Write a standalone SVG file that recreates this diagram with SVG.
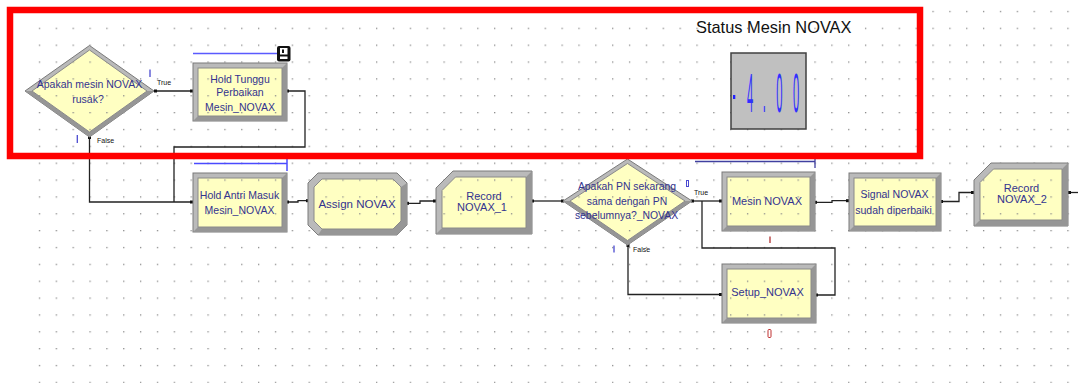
<svg xmlns="http://www.w3.org/2000/svg" width="1078" height="383" viewBox="0 0 1078 383">
<defs>
<pattern id="dots" patternUnits="userSpaceOnUse" x="5.1" y="10.84" width="16.86" height="16.86">
<rect x="0" y="0" width="1.3" height="1.3" fill="#8a8a8a"/>
</pattern>
<pattern id="ydots" patternUnits="userSpaceOnUse" x="5.1" y="10.84" width="16.86" height="16.86">
<rect x="0" y="0" width="16.86" height="16.86" fill="#ffffc2"/>
<rect x="0" y="0" width="1.3" height="1.3" fill="#8a8a8a"/>
</pattern>
<style>
.frame{fill:#bababa;stroke:#7a7a7a;stroke-width:1}
.dark{fill:#969696}
.inner{fill:url(#ydots);stroke:#8a8a8a;stroke-width:1}
.lbl{font-family:"Liberation Sans",Arial,sans-serif;fill:#33338f;text-anchor:middle}
.tf{font-family:"Liberation Sans",Arial,sans-serif;fill:#111;font-size:7px}
.con{fill:none;stroke:#222;stroke-width:1.3}
.pt{fill:#111}
</style>
</defs>
<rect x="30" y="0" width="1048" height="383" fill="url(#dots)"/>

<g id="connectors">
<polyline class="con" points="155,91 192,91"/>
<polyline class="con" points="89.5,137 89.5,202 192,202"/>
<polyline class="con" points="287,91 305,91 305,147 174,147 174,202"/>
<polyline class="con" points="287,202 298,202 298,200.7 308,200.7"/>
<polyline class="con" points="407,203.3 420,203.3 420,201 436,201"/>
<polyline class="con" points="532,201 563,201"/>
<polyline class="con" points="692,201 721,201"/>
<polyline class="con" points="628,245 628,294.5 721,294.5"/>
<polyline class="con" points="816,295 835,295 835,248 702,248 702,201"/>
<polyline class="con" points="815,202.3 832,202.3 832,200.7 848,200.7"/>
<polyline class="con" points="941,201.5 959,201.5 959,192.5 973,192.5"/>
<polyline class="con" points="1068,192.5 1078,192.5"/>
<rect class="pt" x="154" y="89.5" width="3" height="3"/>
<rect class="pt" x="190" y="89.5" width="3" height="3"/>
<rect class="pt" x="88" y="136" width="3" height="3"/>
<rect class="pt" x="286" y="89.5" width="3" height="3"/>
<rect class="pt" x="190" y="200.5" width="3" height="3"/>
<rect class="pt" x="286" y="200.5" width="3" height="3"/>
<rect class="pt" x="306" y="199.2" width="3" height="3"/>
<rect class="pt" x="406" y="201.8" width="3" height="3"/>
<rect class="pt" x="433" y="199.5" width="3" height="3"/>
<rect class="pt" x="531" y="199.5" width="3" height="3"/>
<rect class="pt" x="561" y="199.5" width="3" height="3"/>
<rect class="pt" x="691" y="199.5" width="3" height="3"/>
<rect class="pt" x="719" y="199.5" width="3" height="3"/>
<rect class="pt" x="626.5" y="244" width="3" height="3"/>
<rect class="pt" x="719" y="293" width="3" height="3"/>
<rect class="pt" x="815" y="293.5" width="3" height="3"/>
<rect class="pt" x="814" y="200.8" width="3" height="3"/>
<rect class="pt" x="846" y="199.2" width="3" height="3"/>
<rect class="pt" x="940" y="200" width="3" height="3"/>
<rect class="pt" x="971" y="191" width="3" height="3"/>
<rect class="pt" x="1068" y="191" width="3" height="3"/>
</g>

<g id="decide1">
<polygon class="frame" points="25,91 89.5,45.5 154,91 89.5,137"/>
<polygon class="dark" points="154,91 89.5,137 25,91 32,91 89.5,132 147,91"/>
<polygon class="inner" points="32,91 89.5,50 147,91 89.5,132"/>
<text class="lbl" font-size="10.5" x="89.5" y="87.7">Apakah mesin NOVAX</text>
<text class="lbl" font-size="10.5" x="88" y="102.7">rusak?</text>
<line x1="150" y1="69.5" x2="150" y2="77" stroke="#4a4ad0" stroke-width="1.3"/>
<line x1="77.3" y1="135" x2="77.3" y2="143" stroke="#4a4ad0" stroke-width="1.3"/>
<text class="tf" x="157" y="84.5">True</text>
<text class="tf" x="97" y="142.5">False</text>
</g>

<g id="holdTunggu">
<line x1="193" y1="53.5" x2="277" y2="53.5" stroke="#5a5aff" stroke-width="1.5"/>
<rect x="277" y="46" width="13.5" height="15.5" rx="2" fill="#111"/>
<rect x="280" y="48" width="7.5" height="6.5" fill="#fff"/>
<rect x="282" y="49.5" width="2" height="3.5" fill="#111"/>
<rect x="280" y="56.5" width="7.5" height="2.5" fill="#fff"/>
<rect class="frame" x="193" y="63" width="94" height="58"/>
<polygon class="dark" points="287,63 287,121 193,121 198,116 282,116 282,68"/>
<rect class="inner" x="198" y="68" width="84" height="48"/>
<text class="lbl" font-size="10.5" x="240" y="82.7">Hold Tunggu</text>
<text class="lbl" font-size="10.5" x="240" y="96.4">Perbaikan</text>
<text class="lbl" font-size="10.5" x="240" y="111">Mesin_NOVAX</text>
</g>

<g id="holdAntri">
<line x1="194" y1="163.5" x2="287" y2="163.5" stroke="#4a4aff" stroke-width="1.5"/>
<line x1="287" y1="155" x2="287" y2="171" stroke="#4a4aff" stroke-width="1.5"/>
<rect class="frame" x="193" y="173" width="94" height="59"/>
<polygon class="dark" points="287,173 287,232 193,232 198,227 282,227 282,178"/>
<rect class="inner" x="198" y="178" width="84" height="49"/>
<text class="lbl" font-size="10.5" x="239.5" y="198.7">Hold Antri Masuk</text>
<text class="lbl" font-size="10.5" x="239.5" y="213.7">Mesin_NOVAX</text>
</g>

<g id="assign">
<polygon class="frame" points="318,173 397,173 407,183 407,225 397,235 318,235 308,225 308,183"/>
<polygon class="dark" points="407,183 407,225 397,235 318,235 322,229 393,229 401,221 401,187"/>
<polygon class="inner" points="322,179 393,179 401,187 401,221 393,229 322,229 314,221 314,187"/>
<text class="lbl" font-size="11.5" x="357" y="207.5">Assign NOVAX</text>
</g>

<g id="record1">
<polygon class="frame" points="453,171 532,171 532,234 436,234 436,188"/>
<polygon class="dark" points="532,171 532,234 436,234 442,228 526,228 526,177"/>
<polygon class="inner" points="455.5,177 526,177 526,228 442,228 442,190.5"/>
<text class="lbl" font-size="11" x="484" y="200">Record</text>
<text class="lbl" font-size="11" x="482" y="211.3">NOVAX_1</text>
</g>

<g id="decide2">
<polygon class="frame" points="563,201 627.5,159 692,201 627.5,245"/>
<polygon class="dark" points="692,201 627.5,245 563,201 570,201 627.5,240.5 685,201"/>
<polygon class="inner" points="570,201 627.5,163.5 685,201 627.5,240.5"/>
<text class="lbl" font-size="10.4" x="627" y="189.7">Apakah PN sekarang</text>
<text class="lbl" font-size="10.4" x="627" y="205.4">sama dengan PN</text>
<text class="lbl" font-size="10.4" x="626.5" y="219.4">sebelumnya?_NOVAX</text>
<rect x="686.5" y="180.5" width="2" height="6" fill="none" stroke="#4a4ad0" stroke-width="1"/>
<line x1="614" y1="245.5" x2="614" y2="252.5" stroke="#4a4ad0" stroke-width="1.3"/>
<text class="tf" x="694" y="194.5">True</text>
<text class="tf" x="633" y="251.5">False</text>
</g>

<g id="mesin">
<line x1="695" y1="161.5" x2="815" y2="161.5" stroke="#4040a0" stroke-width="1.3"/>
<line x1="815" y1="153" x2="815" y2="168" stroke="#4040a0" stroke-width="1.3"/>
<rect class="frame" x="722" y="172" width="93" height="59"/>
<polygon class="dark" points="815,172 815,231 722,231 727,226 810,226 810,177"/>
<rect class="inner" x="727" y="177" width="83" height="49"/>
<text class="lbl" font-size="11" x="767" y="205">Mesin NOVAX</text>
<line x1="770" y1="236.5" x2="770" y2="243" stroke="#b03030" stroke-width="1.3"/>
</g>

<g id="setup">
<rect class="frame" x="722" y="264" width="94" height="59"/>
<polygon class="dark" points="816,264 816,323 722,323 727,318 811,318 811,269"/>
<rect class="inner" x="727" y="269" width="84" height="49"/>
<text class="lbl" font-size="11" x="767.5" y="296.3">Setup_NOVAX</text>
<rect x="768" y="329.5" width="3" height="8" rx="1" fill="none" stroke="#c03030" stroke-width="1"/>
</g>

<g id="signal">
<rect class="frame" x="849" y="173" width="92" height="58"/>
<polygon class="dark" points="941,173 941,231 849,231 854,226 936,226 936,178"/>
<rect class="inner" x="854" y="178" width="82" height="48"/>
<text class="lbl" font-size="10.5" x="894.5" y="198">Signal NOVAX</text>
<text class="lbl" font-size="10.5" x="893.5" y="213.7">sudah diperbaiki</text>
</g>

<g id="record2">
<polygon class="frame" points="991,163 1068,163 1068,226 974,226 974,180"/>
<polygon class="dark" points="1068,163 1068,226 974,226 980,220 1062,220 1062,169"/>
<polygon class="inner" points="993.5,169 1062,169 1062,220 980,220 980,182.5"/>
<text class="lbl" font-size="11" x="1021.5" y="191.7">Record</text>
<text class="lbl" font-size="11" x="1022" y="203">NOVAX_2</text>
</g>

<g id="status">
<text x="696" y="33.3" font-family="'Liberation Sans',Arial,sans-serif" font-size="16.4" fill="#111">Status Mesin NOVAX</text>
<rect x="731" y="53" width="75" height="76" fill="#c0c0c0" stroke="#404040" stroke-width="1.5"/>
<rect x="733" y="95" width="2.3" height="4" fill="#2020ff"/>
<text transform="scale(0.2,1)" font-family="'Liberation Sans',Arial,sans-serif" font-size="56" fill="#3030ff" text-anchor="middle" x="3750 3822 3897 3980" y="112">4.00</text>
</g>

<rect x="10" y="10" width="910" height="146" fill="none" stroke="#ff0000" stroke-width="6.5"/>
</svg>
